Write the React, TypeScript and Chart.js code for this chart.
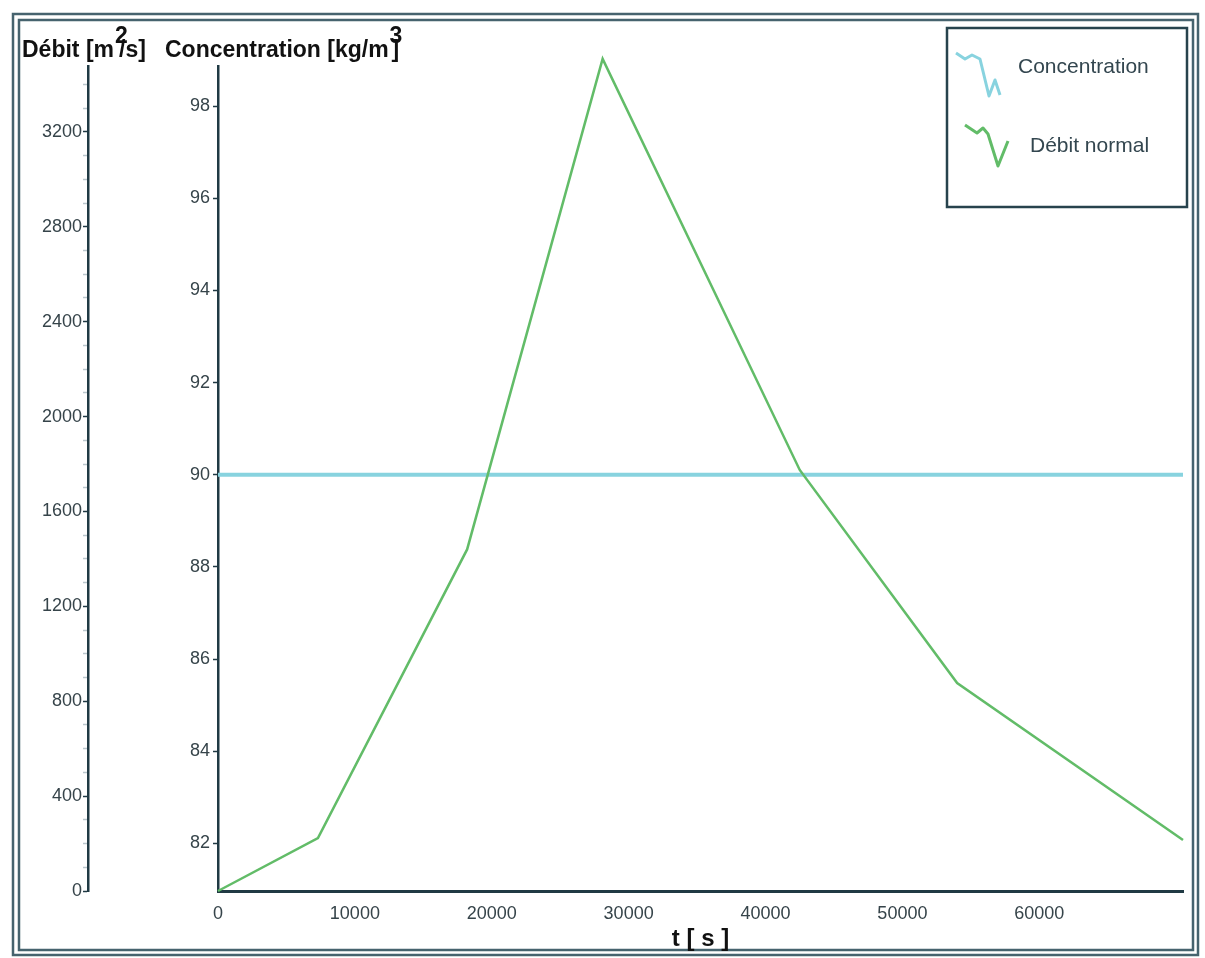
import React, { useEffect, useRef } from 'react';
import { Chart, registerables } from 'chart.js';

Chart.register(...registerables);

// ---- data ----
const TIME_S = [0, 7300, 18200, 28100, 42500, 54000, 70500];
const DEBIT_NORMAL = [0, 223, 1440, 3508, 1775, 877, 215];
const CONC_TIME = [0, 70500];
const CONCENTRATION = [90, 90];

const X_TICKS = [0, 10000, 20000, 30000, 40000, 50000, 60000];
const CONC_TICKS = [82, 84, 86, 88, 90, 92, 94, 96, 98];
const DEBIT_TICKS = [0, 400, 800, 1200, 1600, 2000, 2400, 2800, 3200];
const DEBIT_MINOR_STEP = 100;

const X_MIN = 0;
const X_MAX = 70500;
const CONC_MIN = 80.97;
const CONC_MAX = 98.87;
const DEBIT_MIN = 0;
const DEBIT_MAX = 3478;

// ---- styles ----
const FONT = '"Liberation Sans", Arial, sans-serif';
const AXIS_COLOR = '#203a44';
const MINOR_COLOR = '#b9c6cc';
const TICK_COLOR = '#36444a';
const GREEN = '#62bc68';
const CYAN = '#88d3df';
const FRAME_COLOR = '#46636e';

function drawSupText(ctx: CanvasRenderingContext2D, before: string, sup: string, after: string, x: number, y: number, supGap: number, afterGap: number) {
  ctx.fillText(before, x, y);
  const w = ctx.measureText(before).width;
  ctx.fillText(sup, x + w + supGap, y - 14);
  ctx.fillText(after, x + w + afterGap, y);
}

function zigzag(ctx: CanvasRenderingContext2D, pts: number[][], color: string) {
  ctx.beginPath();
  pts.forEach((p, i) => (i === 0 ? ctx.moveTo(p[0], p[1]) : ctx.lineTo(p[0], p[1])));
  ctx.strokeStyle = color;
  ctx.lineWidth = 3;
  ctx.lineJoin = 'round';
  ctx.stroke();
}

const decorPlugin = {
  id: 'decor',
  beforeDraw(chart: any) {
    const ctx = chart.ctx as CanvasRenderingContext2D;
    ctx.save();
    ctx.fillStyle = '#ffffff';
    ctx.fillRect(0, 0, chart.width, chart.height);
    ctx.strokeStyle = FRAME_COLOR;
    ctx.lineWidth = 2.5;
    ctx.strokeRect(13, 14, 1185, 941);
    ctx.strokeRect(19, 20, 1174, 930);
    ctx.restore();
  },
  afterDraw(chart: any) {
    const ctx = chart.ctx as CanvasRenderingContext2D;
    ctx.save();
    // axis titles (horizontal, above the axes)
    ctx.fillStyle = '#111111';
    ctx.font = `bold 23px ${FONT}`;
    ctx.textBaseline = 'alphabetic';
    ctx.textAlign = 'left';
    drawSupText(ctx, 'Débit [m', '2', '/s]', 22, 57, 1, 5);
    drawSupText(ctx, 'Concentration [kg/m', '3', ']', 165, 57, 1, 3);

    // legend
    ctx.fillStyle = '#ffffff';
    ctx.fillRect(947, 28, 240, 179);
    ctx.strokeStyle = '#27434d';
    ctx.lineWidth = 2.5;
    ctx.strokeRect(947, 28, 240, 179);
    zigzag(ctx, [[956, 53], [965, 59], [972, 55], [980, 59], [989, 96], [995, 80], [1000, 95]], CYAN);
    zigzag(ctx, [[965, 125], [977, 133], [983, 128], [988, 134], [998, 166], [1008, 141]], GREEN);
    ctx.fillStyle = '#33464f';
    ctx.font = `21px ${FONT}`;
    ctx.textBaseline = 'middle';
    ctx.fillText('Concentration', 1018, 67);
    ctx.fillText('Débit normal', 1030, 146);
    ctx.restore();
  },
};

export default function App() {
  const canvasRef = useRef<HTMLCanvasElement | null>(null);

  useEffect(() => {
    const canvas = canvasRef.current;
    if (!canvas) return;
    const tickFont = { family: FONT, size: 18 };

    const chart = new Chart(canvas, {
      type: 'line',
      data: {
        datasets: [
          {
            label: 'Débit normal',
            data: TIME_S.map((t, i) => ({ x: t, y: DEBIT_NORMAL[i] })),
            xAxisID: 'x',
            yAxisID: 'yD',
            borderColor: GREEN,
            borderWidth: 2.5,
            pointRadius: 0,
            tension: 0,
            clip: false,
            order: 0,
          } as any,
          {
            label: 'Concentration',
            data: CONC_TIME.map((t, i) => ({ x: t, y: CONCENTRATION[i] })),
            xAxisID: 'x',
            yAxisID: 'yC',
            borderColor: CYAN,
            borderWidth: 4,
            pointRadius: 0,
            tension: 0,
            order: 1,
          } as any,
        ],
      },
      options: {
        responsive: false,
        animation: false,
        events: [],
        layout: { padding: { left: 20, right: 22, top: 66, bottom: 0 } },
        plugins: {
          legend: { display: false },
          tooltip: { enabled: false },
          title: { display: false },
        },
        scales: {
          x: {
            type: 'linear',
            position: 'bottom',
            min: X_MIN,
            max: X_MAX,
            afterBuildTicks: (s: any) => {
              s.ticks = X_TICKS.map((v) => ({ value: v }));
            },
            afterFit: (s: any) => {
              s.height = 67;
            },
            ticks: {
              font: tickFont,
              color: TICK_COLOR,
              padding: 12,
              maxRotation: 0,
              autoSkip: false,
              callback: (v: any) => String(v),
            },
            grid: { display: true, drawOnChartArea: false, drawTicks: false },
            border: { display: true, color: AXIS_COLOR, width: 3 },
            title: {
              display: true,
              text: 't [ s ]',
              color: '#111111',
              font: { family: FONT, size: 24, weight: 'bold' },
              padding: { top: 0, bottom: 4 },
            },
          },
          yD: {
            type: 'linear',
            position: 'left',
            weight: 1,
            min: DEBIT_MIN,
            max: DEBIT_MAX,
            afterFit: (s: any) => {
              s.width = 68;
            },
            ticks: {
              stepSize: DEBIT_MINOR_STEP,
              includeBounds: false,
              autoSkip: false,
              font: tickFont,
              color: TICK_COLOR,
              padding: 1,
              callback: (v: any) => (DEBIT_TICKS.includes(Number(v)) ? String(v) : ''),
            },
            grid: {
              drawOnChartArea: false,
              drawTicks: true,
              tickLength: 5,
              tickWidth: 1.5,
              tickColor: (c: any) => (c.tick && DEBIT_TICKS.includes(c.tick.value) ? AXIS_COLOR : MINOR_COLOR),
            },
            border: { display: true, color: AXIS_COLOR, width: 2.5 },
          },
          yC: {
            type: 'linear',
            position: 'left',
            weight: 0,
            min: CONC_MIN,
            max: CONC_MAX,
            afterBuildTicks: (s: any) => {
              s.ticks = CONC_TICKS.map((v) => ({ value: v }));
            },
            afterFit: (s: any) => {
              s.width = 130;
            },
            ticks: {
              autoSkip: false,
              font: tickFont,
              color: TICK_COLOR,
              padding: 3,
              callback: (v: any) => String(v),
            },
            grid: {
              drawOnChartArea: false,
              drawTicks: true,
              tickLength: 5,
              tickWidth: 1.5,
              tickColor: AXIS_COLOR,
            },
            border: { display: true, color: AXIS_COLOR, width: 2.5 },
          },
        } as any,
      },
      plugins: [decorPlugin],
    });

    return () => chart.destroy();
  }, []);

  return (
    <div style={{ position: 'absolute', left: 0, top: 0, width: 1205, height: 958, background: '#fff' }}>
      <canvas ref={canvasRef} width={1205} height={958} style={{ width: 1205, height: 958, display: 'block' }} />
    </div>
  );
}
